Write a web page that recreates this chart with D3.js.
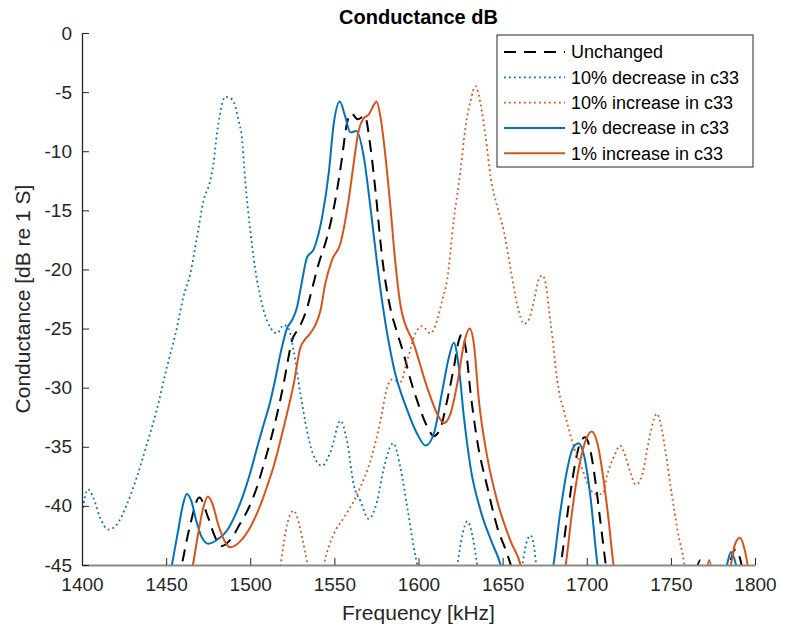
<!DOCTYPE html>
<html>
<head>
<meta charset="utf-8">
<title>Conductance dB</title>
<script src="https://d3js.org/d3.v7.min.js"></script>
<style>
	body { margin: 0; background: #fff; }
	#chart-area text { font-family: "Liberation Sans", Arial, Helvetica, sans-serif; }
</style>
</head>
<body>
<div id="chart-area"></div>
<script>

// values: frequency [kHz] and conductance [dB re 1 S]
// (points below -45 are only there so the curve leaves the axes cleanly)
var freqUnchanged = [1455, 1459.3, 1464, 1469.8, 1475, 1479, 1483.1, 1488, 1494, 1499, 1504, 1508, 1512, 1516, 1519.8, 1522.5, 1524.8, 1527.8, 1530.5, 1533.7, 1537, 1540.7, 1545.6, 1550.6, 1554.6, 1557.1, 1560, 1564, 1568, 1571.4, 1574.4, 1578.4, 1583.3, 1587, 1591.3, 1595, 1599.2, 1605.2, 1609.1, 1613.1, 1617, 1621, 1624, 1625.6, 1628, 1631, 1634.9, 1640.9, 1646.8, 1652.8, 1656, 1662, 1678, 1684.5, 1689, 1693, 1696, 1699, 1702, 1705, 1708, 1711.3, 1714, 1762, 1765, 1767.5, 1770, 1780, 1784.7, 1788.3, 1792, 1795];
var dbUnchanged = [-48, -45, -41.8, -39.3, -41, -42.6, -43.4, -42.9, -41.5, -40.2, -38.4, -36.5, -34.5, -32.2, -29.7, -27.6, -26, -25.2, -24.5, -23.3, -21.5, -19.5, -17.3, -14.1, -10.5, -7.9, -6.8, -7.3, -7, -9.6, -13.3, -19, -23.3, -25.2, -27.2, -29.2, -31.1, -33.3, -34.1, -33.4, -31.1, -28.3, -26, -25.5, -26.6, -30.5, -34.5, -38.4, -41.8, -44.1, -45.5, -48, -48, -45, -40.2, -36.5, -34.7, -34.2, -35.2, -37.8, -41.2, -45, -48, -48, -45.5, -44.6, -45.5, -48, -45, -43.7, -45, -48];

var freqDec10 = [1400, 1403.6, 1406.7, 1410.7, 1415.7, 1420.6, 1426.6, 1432.5, 1438.5, 1444.4, 1450.4, 1456, 1460.3, 1464.3, 1468.3, 1472.2, 1476.2, 1478.2, 1480.2, 1482.1, 1485, 1488.1, 1491.1, 1493, 1495, 1497, 1500, 1502, 1504, 1506, 1508, 1511.9, 1515.9, 1519.8, 1522.8, 1525.8, 1529.8, 1533.7, 1537, 1542.7, 1548, 1553.6, 1557.5, 1561.5, 1565.5, 1570.4, 1575.4, 1579.4, 1585, 1589.3, 1593.3, 1597.2, 1599.2, 1602, 1618, 1623, 1626, 1629, 1632, 1634.9, 1638, 1658, 1661.7, 1664, 1666.7, 1668.5, 1670, 1673, 1800];
var dbDec10 = [-40.6, -38.6, -39.3, -41, -42, -41.6, -39.9, -37.6, -34.8, -31.9, -28.3, -25.2, -22.3, -20.4, -17.3, -14.2, -12.5, -11, -8.5, -6.8, -5.4, -5.5, -6.2, -7.4, -8.8, -12.5, -16.7, -19, -20.9, -22.3, -23.5, -24.9, -25.4, -24.7, -25, -26.9, -30.5, -33.6, -35.5, -36.6, -35.3, -32.8, -34.5, -38.2, -39.6, -41.1, -39.6, -36.8, -34.7, -36.8, -40.1, -43.5, -45, -48, -48, -45, -42.5, -41.3, -42.5, -45, -48, -48, -45, -43.2, -42.5, -43.3, -45, -48, -50];

var freqInc10 = [1514, 1518, 1521, 1523.5, 1525.8, 1528, 1531, 1534, 1537, 1540, 1543.7, 1549.6, 1555.6, 1561.5, 1565.5, 1571.4, 1577.4, 1581.3, 1584.3, 1589.3, 1593.3, 1598.2, 1602.2, 1607.1, 1611.1, 1614.1, 1617, 1621, 1625, 1628, 1631, 1633.9, 1636.9, 1639.9, 1642.9, 1646.8, 1650.8, 1654.8, 1658.7, 1662.7, 1665.7, 1668.7, 1671.6, 1673.6, 1675.6, 1677.6, 1679.6, 1681.5, 1683.5, 1686.5, 1689.5, 1692.5, 1696.4, 1701.4, 1705, 1709.3, 1712.3, 1716.3, 1719.8, 1723.2, 1726.2, 1729.2, 1733.1, 1736.1, 1739.1, 1741.7, 1744, 1747, 1750, 1754, 1758, 1761, 1800];
var dbInc10 = [-48, -45, -42.2, -40.8, -40.4, -41, -42.8, -45, -48, -48, -45, -42.4, -41, -39.6, -38.4, -36.2, -32.8, -30, -29.3, -29.5, -27.7, -25.4, -24.8, -25.4, -24.3, -22.6, -20.9, -15.8, -11.6, -7.9, -5.7, -4.5, -6, -8.8, -12.2, -14.7, -16.8, -20, -23, -24.6, -24.2, -22.6, -20.8, -20.5, -21.2, -23.5, -25.7, -28.3, -30.3, -32, -33.6, -35.1, -36.5, -38.4, -39, -39, -37.3, -35.8, -34.9, -35.9, -37.3, -38.2, -37.3, -35.1, -33.1, -32.2, -33.1, -35.6, -38.5, -42.1, -44.9, -48, -50];

var freqDec1 = [1449, 1453.4, 1457, 1460, 1462.3, 1465, 1468, 1471, 1475.2, 1480, 1486.1, 1491, 1496, 1500, 1504, 1508, 1512, 1515, 1518, 1521.8, 1524.8, 1527.8, 1530.5, 1533.7, 1537.7, 1542.7, 1546.6, 1549.6, 1553.2, 1556.5, 1559.5, 1563.1, 1567.5, 1571.4, 1575.4, 1579, 1585.3, 1593.3, 1599.2, 1604.2, 1609.1, 1614.1, 1618.1, 1621, 1624, 1627, 1631, 1636.9, 1643.9, 1648.8, 1653, 1675, 1680.2, 1684, 1688, 1691.5, 1695.1, 1698.5, 1702, 1706.4, 1710, 1778, 1783.3, 1785.7, 1788.7, 1792];
var dbDec1 = [-48, -45, -42.2, -39.9, -39, -39.6, -41.3, -42.6, -43.2, -42.9, -42.1, -40.8, -39, -37.2, -35.1, -33.1, -31.1, -29.2, -27.1, -25, -24.3, -23.2, -21.2, -19, -18.3, -15.6, -11.9, -7.7, -5.8, -7.1, -8.4, -8.3, -10.5, -14.7, -19.5, -23.3, -28.3, -31.9, -33.9, -34.9, -33.9, -30.3, -27.4, -26.2, -28.3, -32.5, -36.8, -40.4, -43.2, -45, -48, -48, -45, -40.8, -37.2, -35.2, -34.7, -35.8, -39, -45, -48, -48, -45, -43.9, -45, -48];

var freqInc1 = [1461, 1465.9, 1469, 1472, 1474.8, 1477.5, 1481, 1484.5, 1488.1, 1494, 1500, 1505, 1509.9, 1514, 1517.9, 1522, 1525.8, 1529.8, 1532.7, 1535.7, 1539, 1541.7, 1544.6, 1548.6, 1553.6, 1558.5, 1561.5, 1564.5, 1567.5, 1570.4, 1573.4, 1575, 1577.4, 1580.4, 1583.3, 1586.3, 1589.5, 1597.2, 1605.2, 1611.1, 1615.1, 1619, 1623, 1627, 1630.4, 1632.9, 1635.9, 1640.9, 1646.8, 1654.8, 1660.7, 1665, 1682, 1687.5, 1691, 1695, 1699, 1703, 1706.5, 1710, 1713, 1715.9, 1720, 1769, 1772.8, 1776, 1782, 1785.7, 1788, 1791, 1793.5, 1795.6, 1798];
var dbInc1 = [-48, -45, -42.4, -40.2, -39.2, -39.8, -41.6, -42.9, -43.5, -43, -41.8, -40.3, -38.4, -36.6, -34.5, -32.1, -29.7, -26.6, -25.9, -25.4, -24.6, -23.5, -21.2, -19.2, -17.8, -14.1, -11, -8.2, -7.2, -6.9, -6.1, -5.8, -7.1, -10.5, -14.7, -19.5, -23.2, -26.3, -30, -32.2, -33, -32.2, -29.7, -26.3, -25, -26.3, -31.1, -35.9, -39.6, -43, -45, -48, -48, -45, -40.8, -37, -34.6, -33.7, -34.8, -37.8, -41.2, -45, -48, -47, -44.6, -47, -48, -45, -43.3, -42.7, -43.5, -45, -48];

var seriesNames = ["Unchanged", "10% decrease in c33", "10% increase in c33", "1% decrease in c33", "1% increase in c33"];
var xTicks = [1400, 1450, 1500, 1550, 1600, 1650, 1700, 1750, 1800];
var yTicks = [0, -5, -10, -15, -20, -25, -30, -35, -40, -45];


/*
 * ConductanceChart - Object constructor function
 * @param _parentElement 	-- the HTML element in which to draw the visualization
 * @param _data				-- list of series { name, freq, db, style }
 */

ConductanceChart = function(_parentElement, _data){
	this.parentElement = _parentElement;
	this.data = _data;
	this.initVis();
}

ConductanceChart.prototype.initVis = function(){
	var vis = this;

	vis.margin = { top: 33, right: 40, bottom: 70, left: 82 };
	vis.width = 795 - vis.margin.left - vis.margin.right;
	vis.height = 635 - vis.margin.top - vis.margin.bottom;

	vis.root = d3.select("#" + vis.parentElement).append("svg")
			.attr("width", 795)
			.attr("height", 635);
	vis.svg = vis.root.append("g")
			.attr("transform", "translate(" + vis.margin.left + "," + vis.margin.top + ")");

	vis.x = d3.scaleLinear().domain([1400, 1800]).range([0, vis.width]);
	vis.y = d3.scaleLinear().domain([-45, 0]).range([vis.height, 0]);

	// curves stop at the axes box, like matlab does
	vis.svg.append("clipPath").attr("id", "plot-clip")
		.append("rect")
			.attr("x", 0).attr("y", -2)
			.attr("width", vis.width).attr("height", vis.height + 2);

	vis.line = d3.line()
			.x(function(d) { return vis.x(d.f); })
			.y(function(d) { return vis.y(d.db); })
			.curve(d3.curveMonotoneX);

	vis.svg.append("g")
			.attr("clip-path", "url(#plot-clip)")
		.selectAll(".curve").data(vis.data)
		.enter().append("path")
			.attr("class", "curve")
			.attr("fill", "none")
			.attr("stroke", function(d) { return d.color; })
			.attr("stroke-width", function(d) { return d.width; })
			.attr("stroke-dasharray", function(d) { return d.dash; })
			.attr("d", function(d) {
				return vis.line(d.freq.map(function(f, i) { return { f: f, db: d.db[i] }; }));
			});

	// axes, ticks pointing inwards
	var xAxis = d3.axisBottom(vis.x).tickValues(xTicks).tickSizeInner(-7).tickSizeOuter(0).tickPadding(13)
			.tickFormat(function(d) { return String(d); });
	var yAxis = d3.axisLeft(vis.y).tickValues(yTicks).tickSizeInner(-7).tickSizeOuter(0).tickPadding(10)
			.tickFormat(function(d) { return String(d); });

	vis.gx = vis.svg.append("g").attr("transform", "translate(0," + vis.height + ")").call(xAxis);
	vis.gy = vis.svg.append("g").call(yAxis);

	vis.gx.select(".domain").attr("stroke", "#8a8a8a").attr("stroke-width", 2);
	vis.gy.select(".domain").attr("stroke", "#262626").attr("stroke-width", 1.3);
	vis.svg.selectAll(".tick line").attr("stroke", "#262626");
	vis.svg.selectAll(".tick text").attr("fill", "#262626").style("font-size", "19px");

	// titles
	vis.root.append("text")
			.attr("x", vis.margin.left + vis.width / 2)
			.attr("y", 24)
			.attr("text-anchor", "middle")
			.style("font-size", "20px").style("font-weight", "bold")
			.text("Conductance dB");
	vis.root.append("text")
			.attr("x", vis.margin.left + vis.width / 2)
			.attr("y", 620)
			.attr("text-anchor", "middle")
			.attr("fill", "#262626")
			.style("font-size", "21px")
			.text("Frequency [kHz]");
	vis.root.append("text")
			.attr("transform", "translate(30," + (vis.margin.top + vis.height / 2) + ") rotate(-90)")
			.attr("text-anchor", "middle")
			.attr("fill", "#262626")
			.style("font-size", "21px")
			.text("Conductance [dB re 1 S]");

	// legend
	vis.legend = vis.root.append("g").attr("transform", "translate(497,35)");
	vis.legend.append("rect")
			.attr("width", 256).attr("height", 132)
			.attr("fill", "#fff").attr("stroke", "#262626").attr("stroke-width", 1);
	var rows = vis.legend.selectAll(".legend-row").data(vis.data)
		.enter().append("g")
			.attr("class", "legend-row")
			.attr("transform", function(d, i) { return "translate(0," + (17 + i * 25.3) + ")"; });
	rows.append("line")
			.attr("x1", 7).attr("x2", 68)
			.attr("stroke", function(d) { return d.color; })
			.attr("stroke-width", function(d) { return d.width; })
			.attr("stroke-dasharray", function(d) { return d.dash; });
	rows.append("text")
			.attr("x", 74).attr("dy", "0.36em")
			.attr("fill", "#000")
			.style("font-size", "18px")
			.text(function(d) { return d.name; });
}

var blue = "#0072BD", orange = "#D95319";
var series = [
	{ name: seriesNames[0], freq: freqUnchanged, db: dbUnchanged, color: "#000", width: 2, dash: "12,8" },
	{ name: seriesNames[1], freq: freqDec10, db: dbDec10, color: blue, width: 1.8, dash: "1.8,3.2" },
	{ name: seriesNames[2], freq: freqInc10, db: dbInc10, color: orange, width: 1.8, dash: "1.8,3.2" },
	{ name: seriesNames[3], freq: freqDec1, db: dbDec1, color: blue, width: 2, dash: null },
	{ name: seriesNames[4], freq: freqInc1, db: dbInc1, color: orange, width: 2, dash: null }
];

var chart = new ConductanceChart("chart-area", series);

</script>
</body>
</html>
